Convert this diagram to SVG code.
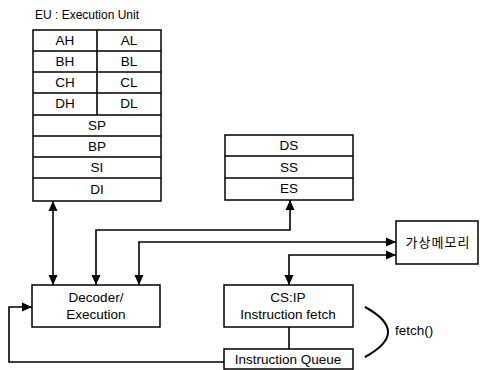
<svg xmlns="http://www.w3.org/2000/svg" width="480" height="370" viewBox="0 0 480 370">
<defs>
<marker id="ah" viewBox="0 0 10 10" refX="10" refY="5" markerWidth="10" markerHeight="10" markerUnits="userSpaceOnUse" orient="auto-start-reverse">
<path d="M0,0.5 L10,5 L0,9.5 Z" fill="#000"/>
</marker>
<style>
.box{fill:#fff;stroke:#000;stroke-width:1.5}
.ln{fill:none;stroke:#000;stroke-width:1.6}
.t{font-family:"Liberation Sans",Arial,sans-serif;font-size:13.5px;fill:#000;text-anchor:middle}
.k{font-family:"Liberation Sans","Noto Sans CJK KR",sans-serif;font-size:13px;fill:#000;text-anchor:middle;letter-spacing:1px}
</style>
</defs>
<rect width="480" height="370" fill="#fff"/>
<text x="35" y="19" class="t" style="text-anchor:start;font-size:12px">EU : Execution Unit</text>
<g id="eu-registers">
<rect class="box" x="33" y="30" width="128" height="171"/>
<line class="ln" x1="33" y1="51" x2="161" y2="51"/>
<line class="ln" x1="33" y1="72" x2="161" y2="72"/>
<line class="ln" x1="33" y1="93" x2="161" y2="93"/>
<line class="ln" x1="33" y1="115" x2="161" y2="115"/>
<line class="ln" x1="33" y1="136" x2="161" y2="136"/>
<line class="ln" x1="33" y1="157" x2="161" y2="157"/>
<line class="ln" x1="33" y1="178" x2="161" y2="178"/>
<line class="ln" x1="97" y1="30" x2="97" y2="115"/>
<text class="t" x="65" y="45">AH</text><text class="t" x="129" y="45">AL</text>
<text class="t" x="65" y="66">BH</text><text class="t" x="129" y="66">BL</text>
<text class="t" x="65" y="87">CH</text><text class="t" x="129" y="87">CL</text>
<text class="t" x="65" y="108">DH</text><text class="t" x="129" y="108">DL</text>
<text class="t" x="97" y="130">SP</text>
<text class="t" x="97" y="151">BP</text>
<text class="t" x="97" y="172">SI</text>
<text class="t" x="97" y="194">DI</text>
</g>
<g id="segment-registers">
<rect class="box" x="225" y="135" width="128" height="65"/>
<line class="ln" x1="225" y1="156" x2="353" y2="156"/>
<line class="ln" x1="225" y1="178" x2="353" y2="178"/>
<text class="t" x="289" y="150">DS</text>
<text class="t" x="289" y="172">SS</text>
<text class="t" x="289" y="193">ES</text>
</g>
<g id="virtual-memory">
<rect class="box" x="396" y="221" width="82" height="43"/>
<text class="k" x="438" y="247">가상메모리</text>
</g>
<g id="decoder">
<rect class="box" x="32" y="285" width="128" height="42"/>
<text class="t" x="96" y="302">Decoder/</text>
<text class="t" x="96" y="319">Execution</text>
</g>
<g id="csip">
<rect class="box" x="224" y="285" width="129" height="42"/>
<text class="t" x="288" y="302">CS:IP</text>
<text class="t" x="288" y="319">Instruction fetch</text>
</g>
<g id="instruction-queue">
<rect class="box" x="224" y="349" width="129" height="20"/>
<text class="t" x="288" y="364">Instruction Queue</text>
</g>
<g id="connectors">
<line class="ln" x1="53" y1="201" x2="53" y2="285" marker-start="url(#ah)" marker-end="url(#ah)"/>
<polyline class="ln" points="96,285 96,230 290,230 290,200" marker-start="url(#ah)" marker-end="url(#ah)"/>
<polyline class="ln" points="139,285 139,242 396,242" marker-start="url(#ah)" marker-end="url(#ah)"/>
<polyline class="ln" points="396,255 289,255 289,285" marker-start="url(#ah)" marker-end="url(#ah)"/>
<line class="ln" x1="289" y1="327" x2="289" y2="349"/>
<polyline class="ln" points="224,362 9,362 9,307 32,307" marker-end="url(#ah)"/>
<path class="ln" style="stroke-width:2" d="M365,307 Q411,332 365,357"/>
</g>
<text class="t" x="395" y="335" style="text-anchor:start">fetch()</text>
</svg>
